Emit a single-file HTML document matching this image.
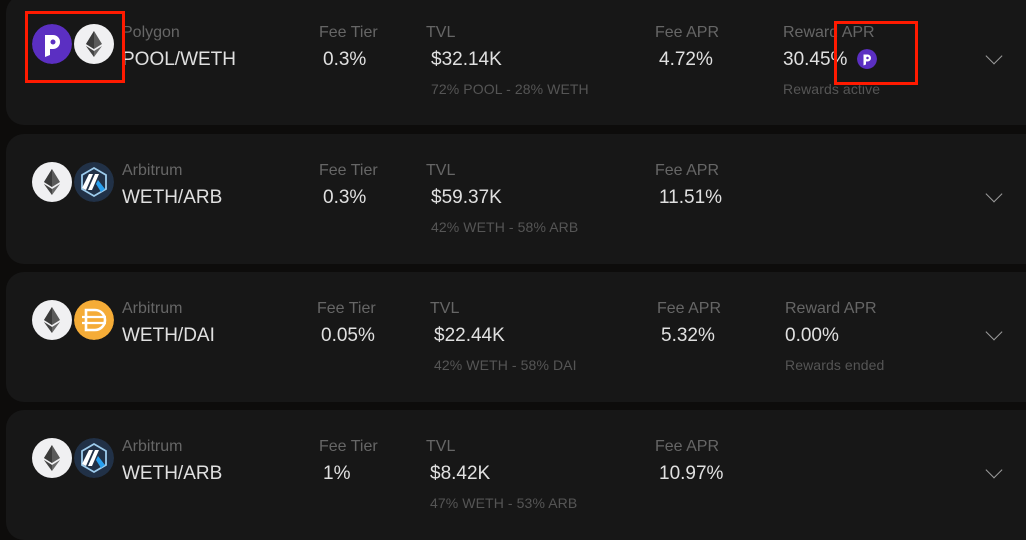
<!DOCTYPE html>
<html><head><style>
body{margin:0;width:1026px;height:536px;background:#0d0c0b;overflow:hidden;position:relative;font-family:"Liberation Sans",sans-serif;}
.card{position:absolute;left:6px;width:1040px;height:130px;background:#171717;border-radius:18px;}
.t{position:absolute;white-space:nowrap;}
.l{color:#666;font-size:16px;}
.v{color:#e0e0e0;font-size:19px;}
.s{color:#555;font-size:14px;letter-spacing:0.1px;}
.ic{position:absolute;width:40px;height:40px;border-radius:50%;}
.eth{background:#f0f0f2;}
.chev{position:absolute;width:11px;height:11px;border-right:1.3px solid #9a9a9a;border-bottom:1.3px solid #9a9a9a;transform:rotate(45deg);}
.red{position:absolute;border:3px solid #ff1a00;box-sizing:border-box;}
</style></head><body>
<svg width="0" height="0" style="position:absolute"><defs>
<g id="eth"><polygon points="20,7 28,20 20,25 12,20" fill="#5a5a5a"/><polygon points="20,7 20,25 12,20" fill="#3a3a3a"/><polygon points="20,27 28,22 20,33 12,22" fill="#6a6a6a"/><polygon points="20,27 20,33 12,22" fill="#444"/></g>
<g id="arb"><circle cx="20" cy="20" r="20" fill="#213147"/><polygon points="20,6 32,13 32,27 20,34 8,27 8,13" fill="none" stroke="#9dcced" stroke-width="1.8"/><polygon points="15,12 19,12 12,28 8,26" fill="#fff"/><polygon points="21,12 25,12 18,28 14,28" fill="#fff"/><polygon points="24,18 31,27 27,30 22,22" fill="#28a0f0"/></g>
<g id="dai"><circle cx="20" cy="20" r="20" fill="#f5ac37"/><path d="M12 10h9a10 10 0 0 1 0 20h-9z" fill="none" stroke="#fff" stroke-width="2.6"/><line x1="8" y1="17" x2="32" y2="17" stroke="#fff" stroke-width="2.2"/><line x1="8" y1="23" x2="32" y2="23" stroke="#fff" stroke-width="2.2"/></g>
<g id="pool"><circle cx="20" cy="20" r="20" fill="#5b2fc2"/><path d="M13 33V11h8a7 7 0 0 1 0 14h-3v6z" fill="#fff"/><circle cx="21" cy="18" r="2.5" fill="#5b2fc2"/></g>
</defs></svg>

<div class="card" style="top:-5px"></div>
<div class="card" style="top:134px"></div>
<div class="card" style="top:272px"></div>
<div class="card" style="top:410px"></div>

<!-- card 1 -->
<svg class="ic" style="left:32px;top:24px" viewBox="0 0 40 40"><use href="#pool"/></svg>
<svg class="ic eth" style="left:74px;top:24px" viewBox="0 0 40 40"><use href="#eth"/></svg>
<div class="t l" style="left:122px;top:24px">Polygon</div>
<div class="t v" style="left:122px;top:49px">POOL/WETH</div>
<div class="t l" style="left:319px;top:24px">Fee Tier</div>
<div class="t v" style="left:323px;top:49px">0.3%</div>
<div class="t l" style="left:426px;top:24px">TVL</div>
<div class="t v" style="left:431px;top:49px">$32.14K</div>
<div class="t s" style="left:431px;top:81px">72% POOL - 28% WETH</div>
<div class="t l" style="left:655px;top:24px">Fee APR</div>
<div class="t v" style="left:659px;top:49px">4.72%</div>
<div class="t l" style="left:783px;top:24px">Reward APR</div>
<div class="t v" style="left:783px;top:49px">30.45%</div>
<svg class="ic" style="left:857px;top:49px;width:20px;height:20px" viewBox="0 0 40 40"><use href="#pool"/></svg>
<div class="t s" style="left:783px;top:81px">Rewards active</div>
<div class="chev" style="left:988px;top:50px"></div>
<div class="red" style="left:25px;top:11px;width:100px;height:72px"></div>
<div class="red" style="left:834px;top:21px;width:84px;height:64px"></div>

<!-- card 2 -->
<svg class="ic eth" style="left:32px;top:162px" viewBox="0 0 40 40"><use href="#eth"/></svg>
<svg class="ic" style="left:74px;top:162px" viewBox="0 0 40 40"><use href="#arb"/></svg>
<div class="t l" style="left:122px;top:162px">Arbitrum</div>
<div class="t v" style="left:122px;top:187px">WETH/ARB</div>
<div class="t l" style="left:319px;top:162px">Fee Tier</div>
<div class="t v" style="left:323px;top:187px">0.3%</div>
<div class="t l" style="left:426px;top:162px">TVL</div>
<div class="t v" style="left:431px;top:187px">$59.37K</div>
<div class="t s" style="left:431px;top:219px">42% WETH - 58% ARB</div>
<div class="t l" style="left:655px;top:162px">Fee APR</div>
<div class="t v" style="left:659px;top:187px">11.51%</div>
<div class="chev" style="left:988px;top:188px"></div>

<!-- card 3 -->
<svg class="ic eth" style="left:32px;top:300px" viewBox="0 0 40 40"><use href="#eth"/></svg>
<svg class="ic" style="left:74px;top:300px" viewBox="0 0 40 40"><use href="#dai"/></svg>
<div class="t l" style="left:122px;top:300px">Arbitrum</div>
<div class="t v" style="left:122px;top:325px">WETH/DAI</div>
<div class="t l" style="left:317px;top:300px">Fee Tier</div>
<div class="t v" style="left:321px;top:325px">0.05%</div>
<div class="t l" style="left:430px;top:300px">TVL</div>
<div class="t v" style="left:434px;top:325px">$22.44K</div>
<div class="t s" style="left:434px;top:357px">42% WETH - 58% DAI</div>
<div class="t l" style="left:657px;top:300px">Fee APR</div>
<div class="t v" style="left:661px;top:325px">5.32%</div>
<div class="t l" style="left:785px;top:300px">Reward APR</div>
<div class="t v" style="left:785px;top:325px">0.00%</div>
<div class="t s" style="left:785px;top:357px">Rewards ended</div>
<div class="chev" style="left:988px;top:326px"></div>

<!-- card 4 -->
<svg class="ic eth" style="left:32px;top:438px" viewBox="0 0 40 40"><use href="#eth"/></svg>
<svg class="ic" style="left:74px;top:438px" viewBox="0 0 40 40"><use href="#arb"/></svg>
<div class="t l" style="left:122px;top:438px">Arbitrum</div>
<div class="t v" style="left:122px;top:463px">WETH/ARB</div>
<div class="t l" style="left:319px;top:438px">Fee Tier</div>
<div class="t v" style="left:323px;top:463px">1%</div>
<div class="t l" style="left:426px;top:438px">TVL</div>
<div class="t v" style="left:430px;top:463px">$8.42K</div>
<div class="t s" style="left:430px;top:495px">47% WETH - 53% ARB</div>
<div class="t l" style="left:655px;top:438px">Fee APR</div>
<div class="t v" style="left:659px;top:463px">10.97%</div>
<div class="chev" style="left:988px;top:464px"></div>
</body></html>
